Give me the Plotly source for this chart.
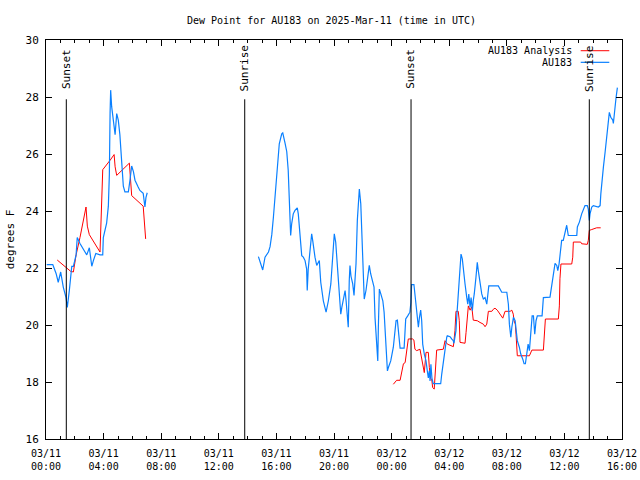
import pandas as pd
import plotly.graph_objects as go

TITLE = "Dew Point for AU183 on 2025-Mar-11 (time in UTC)"
START = "2025-03-11 00:00"

# hours since START, values in degrees F
obs1_h = [0.05, 0.47, 0.70, 0.85, 1.02, 1.20, 1.39, 1.48, 1.62, 1.72,
          1.79, 1.90, 2.09, 2.17, 2.36, 2.71, 2.83, 3.01, 3.06, 3.18,
          3.29, 3.46, 3.75, 3.94, 3.98, 4.21, 4.33, 4.40, 4.45, 4.49,
          4.56, 4.68, 4.80, 4.91, 5.02, 5.13, 5.25, 5.37, 5.48, 5.72,
          5.83, 5.95, 6.07, 6.18, 6.40, 6.52, 6.75, 6.87, 6.94, 7.03]
obs1_v = [22.12, 22.12, 21.81, 21.50, 21.86, 21.33, 20.96, 20.62, 21.21, 21.86,
          22.06, 22.06, 22.46, 23.07, 22.86, 22.56, 22.46, 22.71, 22.46, 22.06,
          22.26, 22.51, 22.46, 22.46, 23.07, 23.57, 24.17, 25.28, 27.43, 28.24,
          27.66, 27.09, 26.68, 27.42, 27.19, 26.68, 25.88, 24.87, 24.67, 24.67,
          25.08, 25.58, 25.38, 25.08, 24.84, 24.72, 24.62, 24.14, 24.47, 24.64]

obs2_h = [14.75, 14.91, 15.05, 15.21, 15.45, 15.56, 15.68, 15.79, 15.90, 16.02,
          16.13, 16.20, 16.37, 16.44, 16.60, 16.72, 16.82, 16.89, 16.94, 16.99,
          17.06, 17.17, 17.29, 17.45, 17.52, 17.59, 17.64, 17.76, 17.87, 17.99,
          18.10, 18.14, 18.21, 18.33, 18.45, 18.52, 18.61, 18.68, 18.80, 18.91,
          18.98, 19.08, 19.15, 19.26, 19.45, 19.61, 19.78, 19.91, 20.02, 20.12,
          20.19, 20.30, 20.42, 20.47, 20.54, 20.65, 20.77, 20.84, 20.93, 20.99,
          21.06, 21.11, 21.18, 21.30, 21.39, 21.46, 21.53, 21.62, 21.69, 21.76,
          21.86, 21.93, 21.99, 22.03, 22.10, 22.22, 22.34, 22.45, 22.55, 22.69,
          22.78, 22.85, 22.97, 23.04, 23.08, 23.15, 23.25, 23.39, 23.48, 23.55,
          23.62, 23.71, 23.77, 23.94, 24.12, 24.24, 24.31, 24.40, 24.54, 24.59,
          24.87, 24.98, 25.12, 25.27, 25.34, 25.39, 25.55, 25.62, 25.74, 25.86,
          25.93, 26.02, 26.09, 26.16, 26.27, 26.39, 26.48, 26.55, 26.62, 26.67,
          26.73, 26.80, 26.89, 27.41, 27.48, 27.59, 27.71, 27.83, 27.87, 28.06,
          28.17, 28.28, 28.33, 28.47, 28.52, 28.63, 28.75, 28.82, 28.91, 28.98,
          29.10, 29.22, 29.29, 29.36, 29.45, 29.52, 29.61, 29.67, 29.74, 29.86,
          29.95, 30.02, 30.09, 30.19, 30.26, 30.37, 30.49, 30.61, 30.68, 30.75,
          31.41, 31.53, 31.65, 32.00, 32.11, 32.18, 32.28, 32.35, 32.46, 32.58,
          32.64, 32.73, 32.87, 32.97, 33.11, 33.20, 33.29, 33.39, 33.48, 33.57,
          33.67, 33.76, 33.85, 33.94, 34.03, 34.12, 34.45, 34.54, 35.00, 35.12,
          35.24, 35.35, 35.47, 35.54, 35.63, 35.70, 35.81, 35.92, 36.04, 36.16,
          36.27, 36.86, 36.90, 37.04, 37.20, 37.31, 37.43, 37.59, 37.66, 37.73,
          37.78, 37.90, 38.01, 38.36, 38.48, 38.53, 38.60, 38.71, 38.83, 38.94,
          39.05, 39.12, 39.22, 39.36, 39.40, 39.47, 39.59, 39.68]
obs2_v = [22.40, 22.16, 21.93, 22.38, 22.56, 22.75, 23.17, 23.77, 24.47, 25.18,
          25.95, 26.36, 26.71, 26.74, 26.38, 26.08, 25.43, 24.47, 23.67, 23.14,
          23.55, 23.90, 24.02, 24.11, 23.90, 23.44, 23.07, 22.43, 22.38, 22.26,
          21.96, 21.21, 21.96, 22.49, 23.20, 22.97, 22.61, 22.38, 22.09, 22.21,
          22.26, 21.50, 21.15, 20.85, 20.45, 20.85, 21.44, 22.49, 23.20, 22.90,
          22.38, 21.44, 20.68, 20.38, 20.61, 20.96, 21.21, 20.85, 20.15, 19.92,
          21.56, 22.09, 21.71, 21.44, 21.04, 21.56, 22.16, 23.67, 24.37, 24.77,
          24.25, 23.32, 22.49, 21.56, 20.91, 21.21, 21.79, 22.09, 21.79, 21.56,
          21.33, 20.25, 19.10, 18.74, 19.92, 21.26, 21.09, 20.85, 20.45, 19.80,
          19.22, 18.39, 18.50, 18.74, 19.22, 20.03, 20.15, 20.17, 19.33, 19.19,
          19.19, 20.21, 20.32, 20.45, 20.79, 21.42, 21.42, 21.09, 20.38, 19.92,
          20.25, 20.52, 20.15, 19.33, 18.98, 18.74, 18.39, 18.14, 18.39, 18.04,
          18.62, 18.14, 17.94, 17.94, 18.27, 18.74, 19.10, 19.57, 19.62, 19.59,
          19.51, 19.45, 19.36, 19.80, 20.25, 21.21, 21.91, 22.49, 22.32, 21.91,
          21.44, 20.96, 20.73, 21.09, 20.62, 20.96, 20.50, 20.85, 21.09, 21.68,
          22.20, 21.91, 21.62, 21.21, 21.09, 20.91, 20.96, 20.73, 21.09, 21.37,
          21.37, 21.27, 21.15, 21.15, 20.73, 20.03, 19.57, 19.92, 20.27, 20.15,
          19.80, 19.45, 19.22, 18.98, 18.80, 18.64, 18.64, 18.98, 19.33, 19.10,
          19.80, 20.32, 20.32, 19.68, 20.15, 20.32, 20.32, 20.96, 20.98, 21.44,
          21.91, 22.16, 22.09, 21.91, 22.14, 22.49, 22.97, 22.97, 23.21, 23.50,
          23.14, 23.14, 23.44, 23.61, 23.90, 24.07, 24.19, 24.19, 24.07, 23.67,
          23.90, 24.14, 24.19, 24.14, 24.19, 24.60, 25.08, 25.55, 26.08, 26.58,
          27.13, 27.46, 27.29, 27.19, 27.07, 27.49, 27.99, 28.33]

ana1_h = [0.78, 1.72, 1.90, 2.09, 2.36, 2.59, 2.78, 2.87, 3.01, 3.75,
          3.80, 3.87, 3.94, 4.45, 4.73, 4.80, 4.91, 5.79, 5.88, 5.95,
          6.75, 6.80, 6.87, 6.92]
ana1_v = [22.28, 21.88, 21.86, 22.46, 23.07, 23.67, 24.14, 23.47, 23.17, 22.56,
          23.32, 24.67, 25.45, 25.78, 25.98, 25.55, 25.25, 25.68, 25.02, 24.54,
          24.17, 23.87, 23.32, 23.02]

ana2_h = [24.12, 24.35, 24.59, 24.70, 24.82, 24.94, 24.99, 25.09, 25.16, 25.46,
          25.55, 25.62, 25.74, 25.97, 26.09, 26.20, 26.27, 26.39, 26.55, 26.62,
          26.71, 26.80, 26.85, 26.96, 27.01, 27.08, 27.13, 27.59, 27.71, 27.87,
          28.29, 28.40, 28.47, 28.63, 28.70, 28.75, 29.10, 29.17, 29.26, 29.33,
          29.45, 29.57, 29.67, 29.95, 30.14, 30.37, 30.49, 30.61, 30.72, 30.96,
          31.06, 31.18, 31.34, 31.53, 31.72, 31.88, 32.23, 32.35, 32.45, 32.50,
          32.59, 32.64, 32.69, 32.73, 33.57, 33.67, 33.74, 34.54, 34.61, 34.68,
          35.58, 35.65, 35.69, 35.76, 36.51, 36.58, 36.62, 37.13, 37.20, 37.59,
          37.66, 37.73, 37.90, 38.05, 38.24, 38.52]
ana2_v = [17.92, 18.06, 18.06, 18.33, 18.64, 18.68, 18.86, 19.15, 19.51, 19.51,
          19.47, 19.15, 19.10, 19.15, 18.86, 18.57, 18.33, 19.04, 19.04, 18.51,
          18.14, 18.04, 17.81, 17.75, 18.14, 18.74, 19.12, 19.15, 19.45, 19.33,
          19.24, 19.80, 20.48, 20.48, 20.15, 19.39, 19.36, 19.74, 20.44, 20.67,
          20.52, 20.64, 20.17, 20.15, 20.09, 20.03, 19.94, 20.03, 20.48, 20.48,
          20.55, 20.59, 20.52, 20.38, 20.24, 20.48, 20.48, 20.52, 20.38, 20.15,
          20.03, 19.68, 19.24, 18.92, 18.92, 19.04, 19.12, 19.12, 19.62, 20.21,
          20.21, 20.67, 21.62, 22.14, 22.14, 22.38, 22.91, 22.91, 22.85, 22.83,
          22.97, 23.32, 23.35, 23.38, 23.41, 23.41]

event_names = ["Sunset", "Sunrise", "Sunset", "Sunrise"]
event_h = [1.41, 13.80, 25.35, 37.73]

tick_h = [0, 4, 8, 12, 16, 20, 24, 28, 32, 36, 40]
tick_labels = ["03/11<br>00:00", "03/11<br>04:00", "03/11<br>08:00", "03/11<br>12:00",
               "03/11<br>16:00", "03/11<br>20:00", "03/12<br>00:00", "03/12<br>04:00",
               "03/12<br>08:00", "03/12<br>12:00", "03/12<br>16:00"]
y_ticks = [16, 18, 20, 22, 24, 26, 28, 30]

base = pd.Timestamp(START)


def to_t(hours):
    return list(base + pd.to_timedelta(hours, unit="h"))


def join(h1, v1, h2, v2):
    return to_t(h1) + [None] + to_t(h2), list(v1) + [None] + list(v2)


RED = "#ff0000"
BLUE = "#0a80ff"
FONT = "DejaVu Sans Mono"

fig = go.Figure()
ax, ay = join(ana1_h, ana1_v, ana2_h, ana2_v)
ox, oy = join(obs1_h, obs1_v, obs2_h, obs2_v)
fig.add_trace(go.Scatter(x=ax, y=ay, mode="lines", name="AU183 Analysis",
                         line=dict(color=RED, width=1), connectgaps=False))
fig.add_trace(go.Scatter(x=ox, y=oy, mode="lines", name="AU183",
                         line=dict(color=BLUE, width=1.2), connectgaps=False))

for name, h in zip(event_names, event_h):
    t = to_t([h])[0]
    fig.add_shape(type="line", xref="x", yref="y", x0=t, x1=t, y0=16, y1=27.92,
                  line=dict(color="black", width=1))
    fig.add_annotation(x=t, y=0.928, xref="x", yref="paper", text=name,
                       textangle=-90, showarrow=False, xanchor="center",
                       yanchor="middle", font=dict(family=FONT, size=11, color="black"))

# legend drawn as text + sample lines (gnuplot style: text left of sample)
leg_items = [("AU183 Analysis", RED), ("AU183", BLUE)]
for i, (lbl, col) in enumerate(leg_items):
    ypx = 50.7 + i * 11.6
    yp = (438.5 - ypx) / 398.5
    fig.add_annotation(x=(574 - 46) / 576, y=yp, xref="paper", yref="paper",
                       text=lbl, showarrow=False, xanchor="right", yanchor="middle",
                       font=dict(family=FONT, size=10, color="black"))
    fig.add_shape(type="line", xref="paper", yref="paper",
                  x0=(580.7 - 46) / 576, x1=(609.3 - 46) / 576, y0=yp, y1=yp,
                  line=dict(color=col, width=1.2 if col == BLUE else 1))

fig.update_layout(
    width=640, height=480,
    margin=dict(l=46, r=18, t=40, b=41, autoexpand=False),
    paper_bgcolor="white", plot_bgcolor="white",
    showlegend=False,
    title=dict(text=TITLE, x=(331.5) / 640, xanchor="center", y=1 - 20 / 480,
               yanchor="middle", font=dict(family=FONT, size=10, color="black")),
    font=dict(family=FONT, size=10, color="black"),
)
fig.update_xaxes(
    type="date", range=[to_t([0])[0], to_t([40])[0]], automargin=False,
    tickmode="array", tickvals=to_t(tick_h), ticktext=tick_labels,
    ticks="inside", ticklen=6, tickcolor="black", tickwidth=1,
    ticklabelstandoff=5,
    minor=dict(dtick=3600000, ticks="inside", ticklen=3, tickcolor="black"),
    showline=True, linecolor="black", linewidth=1, mirror="ticks",
    showgrid=False, zeroline=False,
    tickfont=dict(family=FONT, size=10, color="black"),
)
fig.update_yaxes(
    range=[16, 30], tickmode="array", tickvals=y_ticks, automargin=False,
    ticks="inside", ticklen=6, tickcolor="black", tickwidth=1,
    ticklabelstandoff=4,
    showline=True, linecolor="black", linewidth=1, mirror="ticks",
    showgrid=False, zeroline=False,
    title=dict(text="degrees F", font=dict(family=FONT, size=11, color="black"), standoff=8),
    tickfont=dict(family=FONT, size=11, color="black"),
)

fig.write_html("out.html", config={"displayModeBar": False},
               post_script="document.body.style.margin='0';document.body.style.overflow='hidden';")
